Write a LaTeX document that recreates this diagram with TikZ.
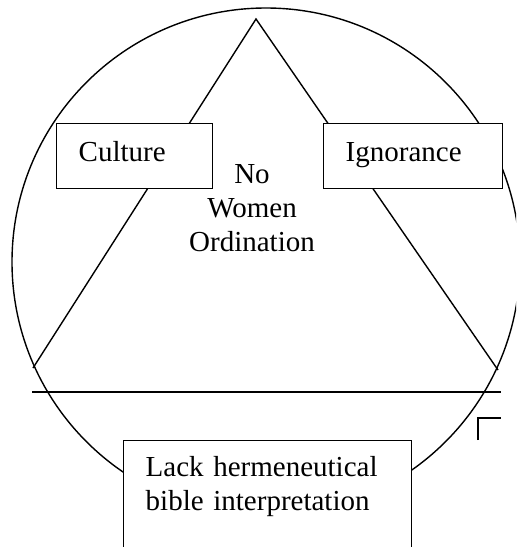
\documentclass[tikz,border=0pt]{standalone}
\usepackage{fontspec}
\setmainfont{Liberation Serif}
\usetikzlibrary{positioning}
\begin{document}
\begin{tikzpicture}[
    x=0.5pt, y=-0.5pt,
    line width=0.7pt,
    every node/.style={font=\fontsize{14.5}{17}\selectfont},
    box/.style={draw, fill=white, inner ysep=0pt, inner xsep=11pt, align=left,
        anchor=north west, text height=19pt, text depth=13.5pt}
]
\useasboundingbox[clip] (0,0) rectangle (516,547);
% circle and triangle
\draw (266,262) circle[radius=127pt];
\coordinate (apex) at (256,19);
\coordinate (tri west) at (33,368);
\coordinate (tri east) at (498,370);
\draw (tri west) -- (apex) -- (tri east);
% base line and corner
\coordinate (base west) at (32,392);
\coordinate (base east) at (501,392);
\draw (base west) -- (base east);
\draw (478,440) -- (478,418) -- (501,418);
% boxes
\node[box, text width=56pt] (culture) at (56,123) {Culture};
\node[box, text width=67.5pt] (ignorance) at (323,123) {Ignorance};
\node[box, text width=122pt, text height=18pt, text depth=60pt] (lack) at (123,440)
    {Lack hermeneutical\\ bible interpretation};
\node[align=center, inner sep=0pt] (ordination) at (252,208) {No\\ Women\\ Ordination};
\end{tikzpicture}
\end{document}
